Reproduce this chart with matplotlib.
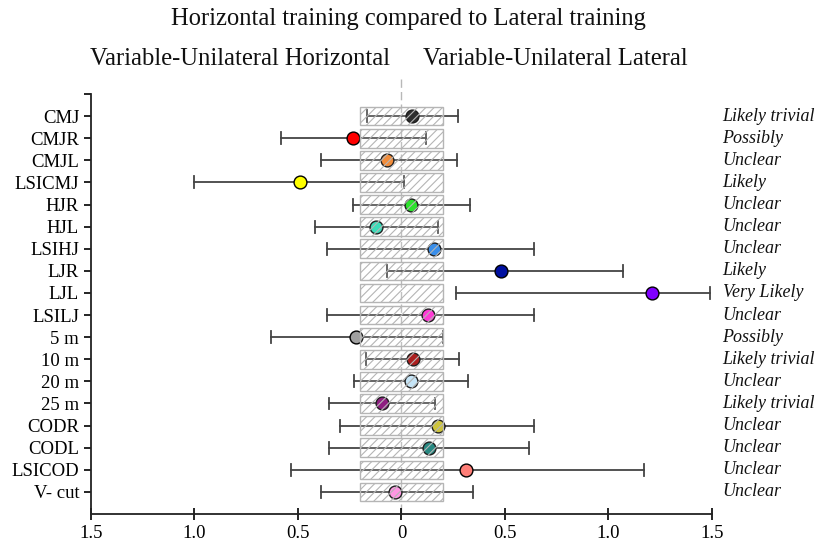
import matplotlib
matplotlib.use("Agg")
import matplotlib.pyplot as plt
from matplotlib.patches import Rectangle

labels = ["CMJ", "CMJR", "CMJL", "LSICMJ", "HJR", "HJL", "LSIHJ", "LJR", "LJL",
          "LSILJ", "5 m", "10 m", "20 m", "25 m", "CODR", "CODL", "LSICOD", "V- cut"]
effect = [0.05, -0.235, -0.07, -0.49, 0.045, -0.125, 0.155, 0.48, 1.21,
          0.13, -0.22, 0.055, 0.045, -0.095, 0.175, 0.135, 0.31, -0.03]
ci_low = [-0.165, -0.58, -0.39, -1.0, -0.235, -0.42, -0.36, -0.07, 0.265,
          -0.36, -0.63, -0.17, -0.23, -0.35, -0.295, -0.35, -0.535, -0.39]
ci_high = [0.275, 0.12, 0.27, 0.01, 0.33, 0.175, 0.64, 1.07, 1.49,
           0.64, 0.2, 0.28, 0.32, 0.16, 0.64, 0.615, 1.17, 0.345]
inference = ["Likely trivial", "Possibly", "Unclear", "Likely", "Unclear", "Unclear",
             "Unclear", "Likely", "Very Likely", "Unclear", "Possibly", "Likely trivial",
             "Unclear", "Likely trivial", "Unclear", "Unclear", "Unclear", "Unclear"]
colors = ["#111111", "#ff0000", "#f07d20", "#ffff00", "#10e010", "#20d8b0",
          "#1e7fe8", "#0010a0", "#8000ff", "#ff20d0", "#a0a0a0", "#a00000",
          "#bfe2f7", "#800070", "#c8bd20", "#0a7870", "#ff7f78", "#ff88e0"]
trivial_low, trivial_high = -0.2, 0.2
xticks = [-1.5, -1.0, -0.5, 0, 0.5, 1.0, 1.5]
xticklabels = ["1.5", "1.0", "0.5", "0", "0.5", "1.0", "1.5"]

plt.rcParams['font.family'] = ['Liberation Serif', 'DejaVu Serif']
plt.rcParams['hatch.color'] = "#a8a8a8"
plt.rcParams['hatch.linewidth'] = 0.8

fig = plt.figure(figsize=(8.16, 5.46), dpi=100)
ax = fig.add_axes([0.1115, 0.0586, 0.761, 0.7692])

n = len(labels)
ypos = list(range(1, n + 1))

for i, y in enumerate(ypos):
    ax.plot([ci_low[i], ci_high[i]], [y, y], color="#444444", lw=1.3, zorder=2)
    ax.plot([ci_low[i], ci_low[i]], [y - 0.27, y + 0.27], color="#444444", lw=1.3, zorder=2)
    ax.plot([ci_high[i], ci_high[i]], [y - 0.27, y + 0.27], color="#444444", lw=1.3, zorder=2)
    ax.scatter([effect[i]], [y], s=85, color=colors[i], edgecolor="black",
               linewidth=1.0, zorder=3)
    rect = Rectangle((trivial_low, y - 0.42), trivial_high - trivial_low, 0.84,
                     facecolor=(1, 1, 1, 0.12), edgecolor="#b5b5b5", hatch="////",
                     lw=1.0, zorder=4)
    ax.add_patch(rect)
    ax.text(1.017, y, inference[i], transform=ax.get_yaxis_transform(),
            ha="left", va="center", fontsize=13, style="italic", color="#111111")

ax.plot([0, 0], [-0.7, n + 1], color="#b8b8b8", lw=1.0, ls=(0, (6, 3)),
        zorder=1, clip_on=False)

ax.set_xlim(-1.5, 1.5)
ax.set_ylim(n + 1, 0)
ax.set_yticks(list(range(0, n + 1)))
ax.set_yticklabels([""] + labels, fontsize=13.5)
ax.set_xticks(xticks)
ax.set_xticklabels(xticklabels, fontsize=13.5)
ax.tick_params(axis="x", direction="inout", length=8, width=1.2, pad=4)
ax.tick_params(axis="y", direction="out", length=5, width=1.2)
for s in ["top", "right"]:
    ax.spines[s].set_visible(False)
for s in ["left", "bottom"]:
    ax.spines[s].set_linewidth(1.3)
    ax.spines[s].set_color("#222222")

fig.text(0.5, 0.966, "Horizontal training compared to Lateral training",
         ha="center", va="center", fontsize=17.7, color="#111111")
fig.text(0.2947, 0.892, "Variable-Unilateral Horizontal", ha="center", va="center",
         fontsize=17.7, color="#111111")
fig.text(0.681, 0.892, "Variable-Unilateral Lateral", ha="center", va="center",
         fontsize=17.7, color="#111111")

fig.savefig("out.png", dpi=100)
